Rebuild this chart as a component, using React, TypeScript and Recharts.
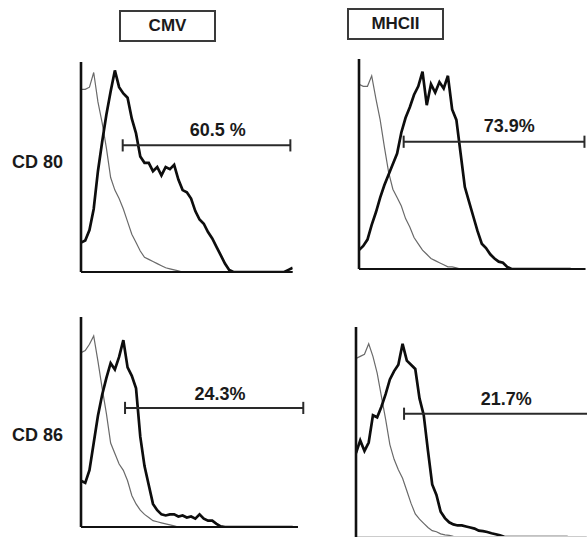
import React from 'react';
import { LineChart, Line, XAxis, YAxis, ReferenceLine, ReferenceDot } from 'recharts';

// fluorescence channel (arbitrary units), shared by all histograms
const channels = [
  0, 2, 4, 6, 8, 10, 12, 14, 16, 18, 20, 22, 24, 26, 28, 30, 32, 34, 36, 38, 40, 42, 44, 46, 48, 50,
  52, 54, 56, 58, 60, 62, 64, 66, 68, 70, 72, 74, 76, 78, 80, 82, 84, 86, 88, 90, 92, 94, 96, 98, 100,
];

// CD80 - CMV
const cd80CmvIso = [
  87, 87, 88, 95, 81, 71, 59, 45, 39, 35, 30, 24, 18, 14, 10, 7, 6, 5, 4, 3, 2, 1.5, 1, 0.5, 0, 0,
  0, 0, 0, 0, 0, 0, 0, 0, 0, 0, 0, 0, 0, 0, 0, 0, 0, 0, 0, 0, 0, 0, 0, 0, 0,
];
const cd80Cmv = [
  14, 15, 20, 30, 48, 62, 75, 86, 96, 88, 85, 83, 73, 66, 55, 52, 52, 48, 50, 46, 50, 49, 51, 44, 39, 38,
  35, 29, 25, 23, 19, 16, 12, 8, 4, 1, 0, 0, 0, 0, 0, 0, 0, 0, 0, 0, 0, 0, 0, 1, 2,
];

// CD80 - MHCII
const cd80MhcIso = [
  88, 87, 87, 92, 81, 71, 58, 46, 38, 34, 30, 24, 20, 15, 12, 9, 7, 5, 4, 3, 2, 1, 1, 0.5, 0, 0,
  0, 0, 0, 0, 0, 0, 0, 0, 0, 0, 0, 0, 0, 0, 0, 0, 0, 0, 0, 0, 0, 0, 0, 0, 0,
];
const cd80Mhc = [
  9, 11, 14, 21, 27, 34, 40, 45, 50, 55, 65, 72, 77, 83, 87, 94, 78, 88, 84, 89, 86, 92, 76, 71, 55, 39,
  32, 25, 18, 12, 10, 7, 5, 3.5, 3, 1, 0, 0, 0, 0, 0, 0, 0, 0, 0, 0, 0, 0, 0, 0, 0,
];

// CD86 - CMV
const cd86CmvIso = [
  83, 84, 87, 91, 79, 66, 54, 40, 35, 30, 27, 22, 15, 11, 8, 6, 4.5, 3, 2.5, 2, 1.5, 1, 0.5, 0, 0, 0,
  0, 0, 0, 0, 0, 0, 0, 0, 0, 0, 0, 0, 0, 0, 0, 0, 0, 0, 0, 0, 0, 0, 0, 0, 0,
];
const cd86Cmv = [
  22, 21, 27, 40, 53, 63, 71, 78, 75, 81, 89, 76, 72, 66, 43, 29, 20, 11, 8, 6, 5.5, 6, 6, 5, 5.5, 4.5,
  5, 4, 6, 4, 3, 3, 1.5, 0.3, 0, 0, 0, 0, 0, 0, 0, 0, 0, 0, 0, 0, 0, 0, 0, 0, 0,
];

// CD86 - MHCII
const cd86MhcIso = [
  85, 86, 87, 92, 86, 78, 67, 56, 44, 37, 32, 28, 22, 16, 11, 8.5, 6.5, 4.5, 3, 2.5, 1.5, 1, 0.8, 0.3, 0, 0,
  0, 0, 0, 0, 0, 0, 0, 0, 0, 0, 0, 0, 0, 0, 0, 0, 0, 0, 0, 0, 0, 0, 0, 0, 0,
];
const cd86Mhc = [
  40, 46, 41, 45, 58, 57, 62, 68, 75, 79, 82, 92, 84, 82, 80, 66, 58, 41, 25, 20, 12, 9, 7, 6, 5.5, 5.5,
  5, 4.5, 4, 3, 2.8, 2.4, 1.8, 1.3, 0.8, 0.1, 0, 0, 0, 0, 0, 0, 0, 0, 0, 0, 0, 0, 0, 0, 0,
];

const gateLabels = ['60.5 %', '73.9%', '24.3%', '21.7%'];
const columnTitles = ['CMV', 'MHCII'];
const rowTitles = ['CD 80', 'CD 86'];

const FONT = '"Liberation Sans", Arial, Helvetica, sans-serif';
const UNIT = 2.117; // px per channel
const PLOT_H = 210;
const M = { top: 8, right: 20, bottom: 8, left: 8 };

interface PanelProps {
  iso: number[];
  stained: number[];
  plotLeft: number;
  plotTop: number;
  xMax: number;
  gateFrom: number;
  gateTo: number;
  gateY: number;
  label: string;
  labelX: number;
  labelY: number;
  baseColor?: string;
}

function Panel(p: PanelProps) {
  const data = channels.map((c, i) => ({ c, iso: p.iso[i], stained: p.stained[i] }));
  const width = p.xMax * UNIT + M.left + M.right + 1;
  const height = PLOT_H + M.top + M.bottom + 1;
  const gateStroke = { stroke: '#2a2a2a', strokeWidth: 2, ifOverflow: 'visible' as const };

  return (
    <div style={{ position: 'absolute', left: p.plotLeft - M.left - 1, top: p.plotTop - M.top }}>
      <LineChart width={width} height={height} data={data} margin={M}>
        <XAxis
          dataKey="c"
          type="number"
          domain={[0, p.xMax]}
          allowDataOverflow
          tick={false}
          tickLine={false}
          height={1}
          axisLine={{ stroke: p.baseColor ?? '#111', strokeWidth: 2 }}
        />
        <YAxis
          type="number"
          domain={[0, 100]}
          allowDataOverflow
          tick={false}
          tickLine={false}
          width={1}
          axisLine={{ stroke: '#111', strokeWidth: 2.6 }}
        />
        <Line dataKey="iso" stroke="#6a6a6a" strokeWidth={1.2} dot={false} isAnimationActive={false} />
        <Line dataKey="stained" stroke="#0d0d0d" strokeWidth={2.7} dot={false} isAnimationActive={false} />
        <ReferenceLine segment={[{ x: p.gateFrom, y: p.gateY }, { x: p.gateTo, y: p.gateY }]} {...gateStroke} />
        <ReferenceLine segment={[{ x: p.gateFrom, y: p.gateY - 2.9 }, { x: p.gateFrom, y: p.gateY + 2.9 }]} {...gateStroke} />
        <ReferenceLine segment={[{ x: p.gateTo, y: p.gateY - 2.9 }, { x: p.gateTo, y: p.gateY + 2.9 }]} {...gateStroke} />
        <ReferenceDot
          x={p.labelX}
          y={p.labelY}
          r={0}
          fill="none"
          stroke="none"
          label={{ value: p.label, position: 'center', fill: '#1a1a1a', fontSize: 18, fontWeight: 'bold', fontFamily: FONT }}
        />
      </LineChart>
    </div>
  );
}

const boxStyle = (left: number, top: number): React.CSSProperties => ({
  position: 'absolute',
  left,
  top,
  width: 97,
  height: 32,
  boxSizing: 'border-box',
  border: '2px solid #3a3a3a',
  textAlign: 'center',
  lineHeight: '28px',
  fontSize: 17,
  fontWeight: 'bold',
  color: '#1a1a1a',
});

const rowStyle = (top: number): React.CSSProperties => ({
  position: 'absolute',
  left: 12,
  top,
  lineHeight: '20px',
  fontSize: 18,
  fontWeight: 'bold',
  color: '#1a1a1a',
});

export default function App() {
  return (
    <div
      style={{
        position: 'absolute',
        left: 0,
        top: 0,
        width: 587,
        height: 537,
        overflow: 'hidden',
        background: '#fff',
        fontFamily: FONT,
      }}
    >
      <div style={boxStyle(119, 10)}>{columnTitles[0]}</div>
      <div style={boxStyle(347, 8)}>{columnTitles[1]}</div>
      <div style={rowStyle(152)}>{rowTitles[0]}</div>
      <div style={rowStyle(425)}>{rowTitles[1]}</div>

      <Panel iso={cd80CmvIso} stained={cd80Cmv} plotLeft={81} plotTop={61.7} xMax={100}
        gateFrom={19.7} gateTo={98.9} gateY={60.3} label={gateLabels[0]} labelX={64.6} labelY={68} />
      <Panel iso={cd80MhcIso} stained={cd80Mhc} plotLeft={359.3} plotTop={59} xMax={107}
        gateFrom={21.1} gateTo={106.5} gateY={60.6} label={gateLabels[1]} labelX={71} labelY={68.5} />
      <Panel iso={cd86CmvIso} stained={cd86Cmv} plotLeft={81} plotTop={316.7} xMax={102.5}
        gateFrom={20.8} gateTo={105} gateY={56.7} label={gateLabels[2]} labelX={65.7} labelY={63.5} />
      <Panel iso={cd86MhcIso} stained={cd86Mhc} plotLeft={356} plotTop={326.7} xMax={109}
        gateFrom={22.7} gateTo={112} gateY={58.7} label={gateLabels[3]} labelX={71} labelY={66} baseColor="#ccc" />
    </div>
  );
}
